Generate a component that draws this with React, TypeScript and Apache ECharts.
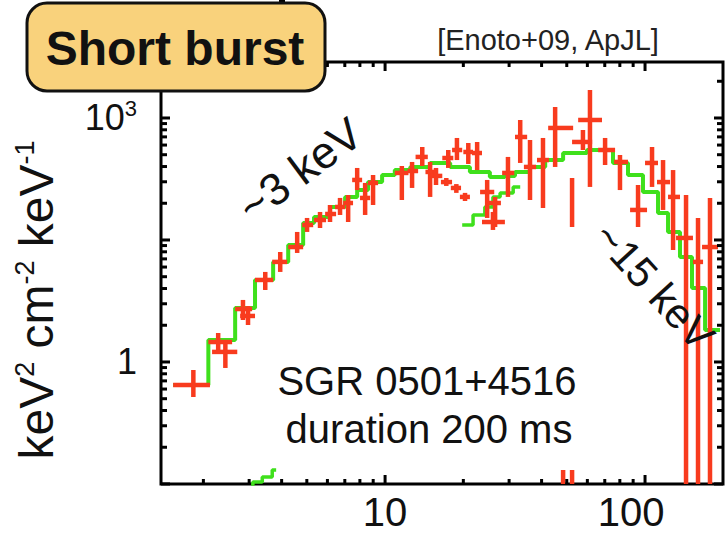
import React, { useEffect, useRef } from 'react';
import * as echarts from 'echarts';

// ---- observed spectrum (red crosses): energy [keV] with bin edges, flux with error range
const energy = [1.83, 2.28, 2.43, 2.84, 2.97, 3.46, 3.95, 4.59, 5.01, 5.62, 6.14, 6.71, 7.21, 7.81, 8.38, 8.99, 11.6, 12.7, 13.9, 14.9, 15.7, 17.5, 18.9, 20.9, 22.6, 17.2, 18.8, 20.3, 24.7, 26.5, 26.0, 29.7, 33.1, 36.1, 40.5, 45.1, 57.7, 61.4, 70.2, 80.1, 94.0, 106.4, 117.3, 128.2, 143.8, 159.9, 177.8, 52.4, 48.4, 52.4];
const energyLo = [1.53, 2.09, 2.16, 2.65, 2.77, 3.16, 3.68, 4.24, 4.80, 5.33, 5.88, 6.42, 6.90, 7.47, 8.01, 8.60, 10.9, 12.2, 13.1, 14.3, 15.0, 16.6, 18.1, 20.0, 21.6, 16.4, 17.9, 19.4, 23.2, 25.1, 23.6, 28.2, 31.6, 34.2, 38.4, 42.4, 52.4, 55.3, 66.0, 76.0, 87.6, 100, 111.2, 122.6, 131.6, 152.9, 165.7, 52.4, 48.4, 52.4];
const energyHi = [2.12, 2.58, 2.70, 3.08, 3.16, 3.71, 4.20, 4.84, 5.29, 5.93, 6.48, 7.02, 7.53, 8.16, 8.76, 9.40, 12.3, 13.4, 14.6, 15.7, 16.6, 18.3, 19.8, 21.8, 23.6, 18.1, 19.6, 21.2, 26.3, 27.9, 28.9, 31.4, 35.2, 38.1, 42.7, 52.9, 62.6, 68.3, 76.7, 86.0, 101.8, 112.2, 124.8, 136.3, 152.9, 167.2, 190.9, 52.4, 48.4, 52.4];
const flux = [0.521, 1.76, 1.33, 4.48, 3.68, 10.2, 17.0, 25.9, 48.4, 55.7, 66.0, 80.5, 90.1, 173, 104, 159, 211, 223, 332, 217, 194, 322, 404, 382, 371, 163, 138, 107, 123, 90.1, 52.6, 211, 584, 250, 304, 754, 507, 945, 404, 288, 74.0, 280, 163, 107, 33.5, 17.0, 25.9, 92.7, 0.02, 0.02];
const fluxLo = [0.371, 1.33, 0.844, 3.28, 2.85, 7.68, 12.8, 21.9, 39.7, 44.4, 52.6, 64.2, 52.6, 130, 64.2, 85.2, 98.1, 138, 257, 107, 150, 243, 304, 272, 229, 146, 120, 95.4, 59.0, 45.7, 42.0, 107, 280, 98.1, 78.2, 250, 404, 142, 264, 130, 45.7, 142, 74.0, 23.8, 0.01, 0.01, 0.01, 45.7, 0.01, 0.01];
const fluxHi = [0.797, 2.27, 1.76, 5.79, 4.88, 12.8, 22.5, 39.7, 59.0, 69.9, 85.2, 104, 113, 243, 159, 199, 257, 288, 440, 288, 243, 404, 568, 493, 507, 183, 154, 120, 173, 107, 69.9, 332, 945, 536, 568, 1365, 712, 2210, 568, 351, 150, 440, 304, 229, 113, 59.0, 104, 183, 0.047, 0.047];

// ---- model (green step histogram): bin edges and values
const modelEdges = [1.53, 2.09, 2.65, 3.16, 3.71, 4.24, 4.84, 5.33, 6.14, 7.02, 7.81, 8.60, 9.74, 10.9, 12.5, 14.9, 17.8, 21.2, 25.3, 28.9, 31.6, 36.1, 41.3, 48.4, 59.8, 75.3, 86.0, 98.2, 112.2, 122.6, 136.3, 151.6, 170.2, 194.3];
const modelFlux = [0.521, 1.86, 4.61, 10.2, 17.0, 27.4, 51.2, 60.6, 80.5, 107, 130, 163, 199, 229, 250, 280, 250, 217, 188, 194, 217, 250, 304, 371, 404, 280, 199, 123, 67.9, 39.7, 19.5, 8.12, 2.47];
const compEdges = [19.8, 21.8, 24.2, 26.0, 27.7, 31.1, 33.1];
const compFlux = [48.4, 64.2, 80.5, 107, 120, 142];
const lowCompEdges = [3.10, 3.10, 3.37, 3.68, 3.81];
const lowCompFlux = [0.01, 0.0335, 0.0386, 0.047];

// ---- axes
const xMajorTicks = [10, 100];
const xMinorTicks = [2, 3, 4, 5, 6, 7, 8, 9, 20, 30, 40, 50, 60, 70, 80, 90];
const xTickLabels = ['10', '100'];
const yTickLabels = ['1', '10³'];
const X_MIN = 1.374;
const X_MAX = 199.5;
const Y_MIN = 0.0316;
const Y_MAX = 4880;

const FONT = '"Liberation Sans", Arial, Helvetica, sans-serif';
const RED = '#f83b1e';
const GREEN = '#3fe01c';
const INK = '#111111';

function stepPoints(edges: number[], vals: number[]) {
  const pts = vals.map((v, i) => [edges[i], v]);
  pts.push([edges[vals.length], vals[vals.length - 1]]);
  return pts;
}

function isPow(v: number, p: number) {
  return Math.abs(Math.log10(v) - p) < 1e-6;
}

export default function App() {
  const ref = useRef<HTMLDivElement>(null);

  useEffect(() => {
    const chart = echarts.init(ref.current!, null, { renderer: 'svg' });

    const ticks: number[][] = [];
    xMajorTicks.forEach((v) => ticks.push([v, 1, 0, 1]));
    xMinorTicks.forEach((v) => ticks.push([v, 1, 0, 0]));
    for (let n = -1; n <= 2; n++) {
      const base = Math.pow(10, 1.5 * n);
      ticks.push([10, base, 1, 1]);
      for (let k = 2; k <= 9; k++) {
        const v = base * Math.pow(k, 1.5);
        if (v < Y_MAX) ticks.push([10, v, 1, 0]);
      }
    }

    const errData = energy.map((e, i) => [e, energyLo[i], energyHi[i], flux[i], fluxLo[i], fluxHi[i]]);

    const option: any = {
      animation: false,
      grid: {
        left: 161,
        right: 2,
        top: 62,
        bottom: 49,
        show: true,
        borderColor: '#000',
        borderWidth: 3,
        backgroundColor: 'transparent',
        outerBoundsMode: 'none',
      },
      xAxis: {
        type: 'log',
        logBase: 10,
        min: X_MIN,
        max: X_MAX,
        axisLine: { show: false },
        axisTick: { show: false },
        splitLine: { show: false },
        minorTick: { show: false },
        axisLabel: {
          margin: 8,
          fontSize: 40,
          fontFamily: FONT,
          color: INK,
          formatter: (v: number) => (isPow(v, 1) ? xTickLabels[0] : isPow(v, 2) ? '{r|' + xTickLabels[1] + '}' : ''),
          rich: { r: { fontSize: 40, fontFamily: FONT, color: INK, padding: [0, 28, 0, 0] } },
        },
      },
      yAxis: {
        type: 'log',
        logBase: 10,
        min: Y_MIN,
        max: Y_MAX,
        axisLine: { show: false },
        axisTick: { show: false },
        splitLine: { show: false },
        minorTick: { show: false },
        axisLabel: {
          margin: 24,
          fontSize: 36,
          fontFamily: FONT,
          color: INK,
          formatter: (v: number) => (isPow(v, 0) ? yTickLabels[0] : isPow(v, 3) ? '{b|10}{s|3}' : ''),
          rich: {
            b: { fontSize: 36, fontFamily: FONT, color: INK, lineHeight: 40 },
            s: { fontSize: 22, fontFamily: FONT, color: INK, verticalAlign: 'top', lineHeight: 24 },
          },
        },
      },
      series: [
        {
          type: 'line',
          name: 'model',
          step: 'end',
          symbol: 'none',
          z: 2,
          clip: true,
          data: stepPoints(modelEdges, modelFlux),
          lineStyle: { color: GREEN, width: 4 },
        },
        {
          type: 'line',
          name: 'component',
          step: 'end',
          symbol: 'none',
          z: 2,
          clip: true,
          data: stepPoints(compEdges, compFlux),
          lineStyle: { color: GREEN, width: 3.5 },
        },
        {
          type: 'line',
          name: 'low component',
          step: 'end',
          symbol: 'none',
          z: 2,
          clip: true,
          data: stepPoints(lowCompEdges, lowCompFlux),
          lineStyle: { color: GREEN, width: 3.5 },
        },
        {
          type: 'custom',
          name: 'data',
          clip: true,
          z: 3,
          encode: { x: 0, y: 3 },
          data: errData,
          renderItem: (params: any, api: any) => {
            const x = api.value(0);
            const y = api.value(3);
            const a = api.coord([api.value(1), y]);
            const b = api.coord([api.value(2), y]);
            const c = api.coord([x, api.value(4)]);
            const d = api.coord([x, api.value(5)]);
            const style = { stroke: RED, lineWidth: 4.5 };
            const children: any[] = [];
            if (b[0] - a[0] > 0.5) {
              children.push({ type: 'line', shape: { x1: a[0], y1: a[1], x2: b[0], y2: b[1] }, style });
            }
            children.push({ type: 'line', shape: { x1: c[0], y1: c[1], x2: d[0], y2: d[1] }, style });
            return { type: 'group', children };
          },
        },
        {
          type: 'custom',
          name: 'ticks',
          z: 5,
          clip: false,
          encode: { x: 0, y: 1 },
          data: ticks,
          renderItem: (params: any, api: any) => {
            const cs = params.coordSys;
            const kind = api.value(2);
            const major = api.value(3);
            const style = { stroke: '#000', lineWidth: 3 };
            if (kind === 0) {
              const len = major ? 9 : 5;
              const px = api.coord([api.value(0), 1])[0];
              const yb = cs.y + cs.height;
              return {
                type: 'group',
                children: [
                  { type: 'line', shape: { x1: px, y1: yb, x2: px, y2: yb - len }, style },
                  { type: 'line', shape: { x1: px, y1: cs.y, x2: px, y2: cs.y + len }, style },
                ],
              };
            }
            const len = major ? 9 : 6;
            const py = api.coord([10, api.value(1)])[1];
            const xr = cs.x + cs.width;
            return {
              type: 'group',
              children: [
                { type: 'line', shape: { x1: cs.x, y1: py, x2: cs.x + len, y2: py }, style },
                { type: 'line', shape: { x1: xr, y1: py, x2: xr - len, y2: py }, style },
              ],
            };
          },
        },
      ],
      graphic: [
        { type: 'rect', z: 99, shape: { x: 279, y: 0, width: 6, height: 6 }, style: { fill: '#000' } },
        {
          type: 'rect',
          z: 100,
          shape: { x: 27, y: 3, width: 298, height: 88, r: 20 },
          style: { fill: '#F9D27C', stroke: INK, lineWidth: 3 },
        },
        {
          type: 'text',
          z: 101,
          x: 175,
          y: 48,
          style: { text: 'Short burst', fontSize: 48, fontWeight: 'bold', fontFamily: FONT, fill: INK, align: 'center', verticalAlign: 'middle' },
        },
        {
          type: 'text',
          z: 101,
          x: 548,
          y: 40,
          style: { text: '[Enoto+09, ApJL]', fontSize: 29, fontFamily: FONT, fill: '#222', align: 'center', verticalAlign: 'middle' },
        },
        {
          type: 'text',
          z: 101,
          x: 36,
          y: 300,
          rotation: Math.PI / 2,
          style: {
            text: '{n|keV}{s|2}{n| cm}{s|-2}{n| keV}{s|-1}',
            align: 'center',
            verticalAlign: 'middle',
            rich: {
              n: { fontSize: 48, fontFamily: FONT, fill: INK, lineHeight: 50 },
              s: { fontSize: 27, fontFamily: FONT, fill: INK, lineHeight: 28, verticalAlign: 'top' },
            },
          },
        },
        {
          type: 'text',
          z: 101,
          x: 300,
          y: 170,
          rotation: 0.64,
          style: { text: '~3 keV', fontSize: 45, fontFamily: FONT, fill: INK, align: 'center', verticalAlign: 'middle' },
        },
        {
          type: 'text',
          z: 101,
          x: 654,
          y: 286,
          rotation: -0.83,
          style: { text: '~15 keV', fontSize: 42, fontFamily: FONT, fill: INK, align: 'center', verticalAlign: 'middle' },
        },
        {
          type: 'text',
          z: 101,
          x: 427,
          y: 381,
          style: { text: 'SGR 0501+4516', fontSize: 40, fontFamily: FONT, fill: INK, align: 'center', verticalAlign: 'middle' },
        },
        {
          type: 'text',
          z: 101,
          x: 429,
          y: 429,
          style: { text: 'duration 200 ms', fontSize: 40, fontFamily: FONT, fill: INK, align: 'center', verticalAlign: 'middle' },
        },
      ],
    };

    chart.setOption(option);
    return () => chart.dispose();
  }, []);

  return (
    <div
      ref={ref}
      style={{ position: 'fixed', left: 0, top: 0, width: 725, height: 533, background: '#ffffff' }}
    />
  );
}
